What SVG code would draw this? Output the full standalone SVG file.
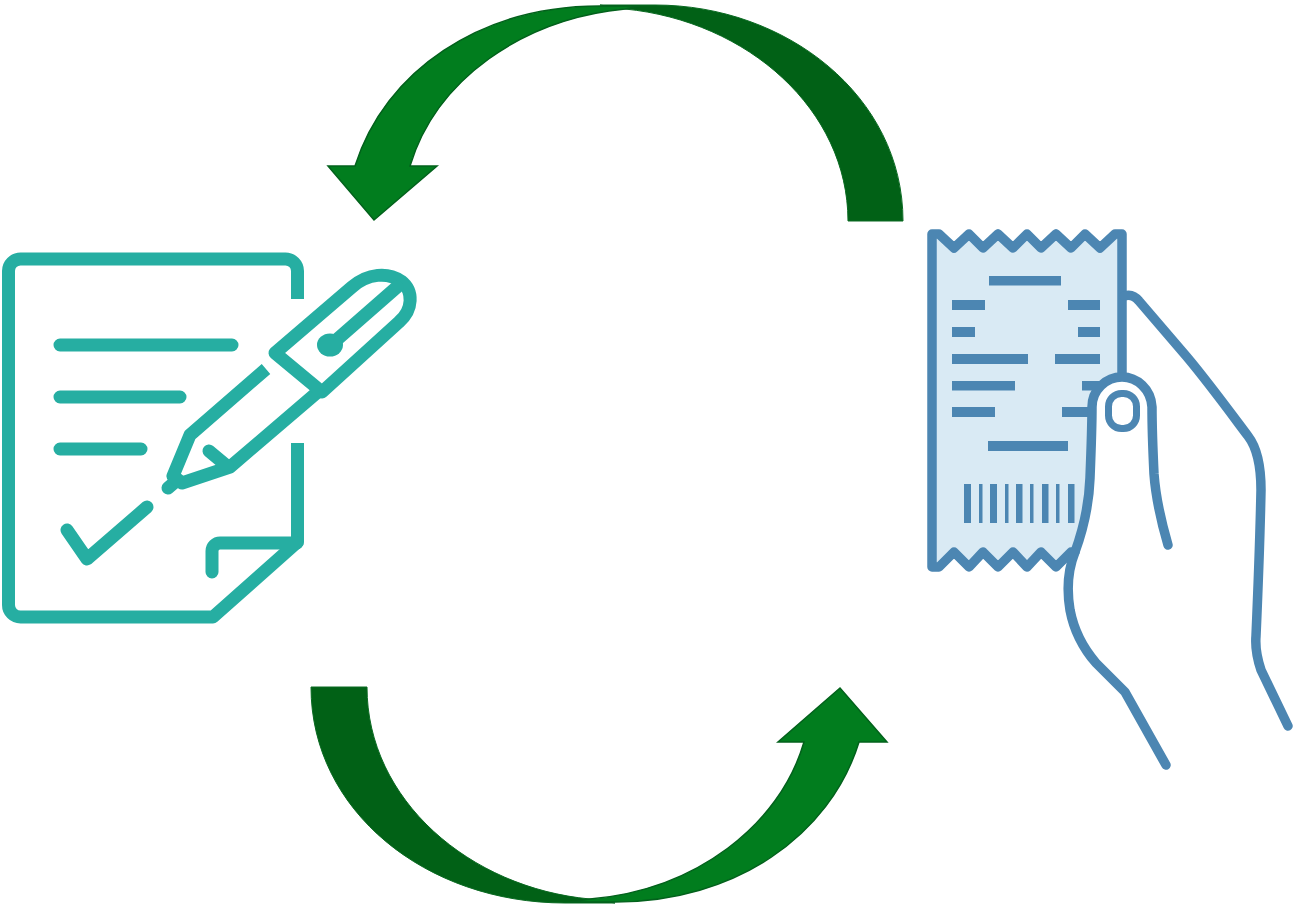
<svg xmlns="http://www.w3.org/2000/svg" width="1293" height="904" viewBox="0 0 1293 904">
<style>
.dark{fill:#016116;stroke:#0a6a22;stroke-width:1}
.light{fill:#017d1e;stroke:#03611c;stroke-width:1.500;stroke-linejoin:miter}
.teal{fill:none;stroke:#26aea2;stroke-width:13;stroke-linecap:round;stroke-linejoin:round}
.tealb{fill:none;stroke:#26aea2;stroke-width:13;stroke-linejoin:round}
.blue{fill:none;stroke:#4c86b2;stroke-width:9.500;stroke-linecap:round;stroke-linejoin:round}
.bar{fill:#4c86b2}
</style>
<rect width="1293" height="904" fill="#fff"/>
<g id="connectors">
<g id="arrow-top">
<path class="dark" d="M903,221 C903,96 786,5 655,5 L600,5 L625,9 C748,21 848,110 848,221 Z"/>
<path class="light" d="M625,9 C522,19 436,80 410,166 L437,166 L374,220 L328,166 L355,166 C385,71 480,6 600,6 L640,6 Z"/>
</g>
<g id="arrow-bottom">
<path class="dark" d="M311,687 C311,811 426,903 565,903 L615,903 L590,899 C470,888 367,800 367,687 Z"/>
<path class="light" d="M590,899 C696,890 780,825 804,742 L778,742 L840,688 L887,742 L859,742 C830,836 735,902 615,902 L570,902 Z"/>
</g>
</g>
<g id="document-node">
<path class="tealb" d="M297.500,299 V271 a12,12 0 0 0 -12,-12 H20.500 a12,12 0 0 0 -12,12 V605 a12,12 0 0 0 12,12 H213 L297.500,542 V443"/>
<path class="teal" d="M212,572 V551 a8,8 0 0 1 8,-8 H297"/>
<path class="teal" d="M60,345 H232 M60,397 H180 M60,449 H141"/>
<path class="teal" d="M67,530 L87,559 L147,507"/>
<path class="teal" d="M168,488 L175,482"/>
<path class="tealb" d="M266,369 L190,435 L173,476 L182,483 L230,467 L320,390"/>
<path class="teal" d="M209,451 L227,466"/>
<path class="teal" d="M275,353 L352,287 C368,273 388,272 401,281 C414,291 413,310 399,322 L322,392 Z"/>
<path class="teal" d="M397,287 L333,343"/>
<ellipse cx="330" cy="345" rx="13" ry="11.500" fill="#26aea2"/>
</g>
<g id="receipt-node">
<path fill="#d9eaf4" d="M932,234 H939 L954,248 L969,234 L983,248 L998,234 L1013,248 L1027,234 L1041,248 L1056,234 L1071,248 L1085,234 L1100,248 L1115,234 H1122 V377 Q1100,380 1092,407 L1091,453 L1088,493 L1080,540 L1073,552 L1056,567 L1041,552 L1027,567 L1013,552 L998,567 L983,552 L969,567 L954,552 L939,567 H932 Z"/>
<path class="bar" d="M989,276h72v9.500h-72z M952,300h33v10h-33z M1068,300h32v10h-32z M952,327h23v10h-23z M1078,327h22v10h-22z M952,354h76v10h-76z M1055,354h45v10h-45z M952,381h63v9.500h-63z M1082,381h18v9.500h-18z M952,407h43v10h-43z M1062,407h28v10h-28z M988,441h80v10h-80z M964,484h7v39h-7z M979,484h3.500v39h-3.500z M990,484h7v39h-7z M1005,484h3.500v39h-3.500z M1016,484h6.500v39h-6.500z M1030,484h3.500v39h-3.500z M1042,484h6.500v39h-6.500z M1056,484h3.500v39h-3.500z M1068,484h6.500v39h-6.500z"/>
<path class="blue" d="M1122,375 V234 H1115 L1100,248 L1085,234 L1071,248 L1056,234 L1041,248 L1027,234 L1013,248 L998,234 L983,248 L969,234 L954,248 L939,234 H932 V567 H939 L954,552 L969,567 L983,552 L998,567 L1013,552 L1027,567 L1041,552 L1056,567 L1071,552 H1075"/>
<path class="blue" d="M1168,545 C1161,521 1156,501 1154,474 C1153,453 1152,428 1152,407 C1151,389 1137,377 1122,377 C1106,377 1092,390 1092,407 C1092,425 1091,453 1090,478 C1089,505 1083,530 1075,552 C1067,572 1067,592 1070,610 C1074,631 1083,648 1096,663 L1125,692 L1166,765"/>
<rect x="1108.500" y="393.500" width="28" height="35" rx="13" fill="none" stroke="#4c86b2" stroke-width="7"/>
<path class="blue" d="M1124,296 C1130,294 1135,296 1139,301 L1187,357 C1208,382 1227,408 1248,436 C1258,449 1261,468 1261,490 C1260,540 1258,590 1256,636 C1255,648 1257,658 1261,670 L1288,726"/>
</g>
</svg>
